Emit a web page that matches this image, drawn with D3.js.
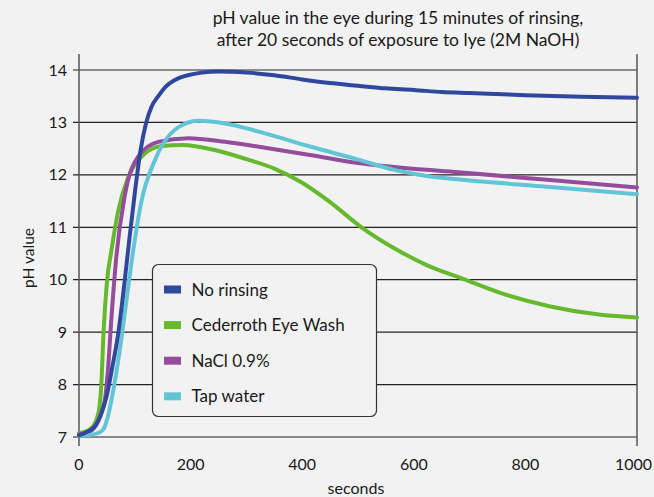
<!DOCTYPE html>
<html>
<head>
<meta charset="utf-8">
<script src="https://cdn.jsdelivr.net/npm/d3@7"></script>
<style>
	body { margin: 0; background: #f2f2f2; }
	svg { display: block; font-family: Lato, "Open Sans", sans-serif; }
</style>
</head>
<body>
<svg id="chart" width="654" height="497"></svg>
<script>
// pH readings, [seconds, pH]
var noRinsing = [[0,7.03],[15,7.1],[30,7.22],[40,7.45],[50,7.8],[60,8.35],[70,8.95],[80,9.8],[90,10.75],[100,11.65],
	[110,12.45],[120,12.98],[130,13.3],[142,13.5],[155,13.68],[172,13.81],[195,13.9],[220,13.95],[250,13.97],
	[300,13.95],[350,13.9],[400,13.82],[450,13.75],[500,13.7],[550,13.65],[600,13.62],[650,13.58],[700,13.56],
	[800,13.52],[900,13.49],[1000,13.47]];
var cederroth = [[0,7.07],[20,7.15],[32,7.35],[37,7.6],[40,8.0],[44,9.0],[50,9.95],[58,10.55],[70,11.3],[88,11.95],
	[112,12.35],[148,12.55],[185,12.57],[245,12.47],[300,12.3],[350,12.12],[400,11.85],[450,11.48],[505,11.01],
	[565,10.6],[625,10.27],[685,10.03],[755,9.75],[845,9.49],[935,9.33],[1000,9.28]];
var nacl = [[0,7.05],[15,7.08],[29,7.2],[40,7.45],[47,7.75],[52,8.3],[58,9.25],[67,10.45],[82,11.6],[106,12.35],
	[142,12.63],[196,12.7],[262,12.63],[325,12.53],[414,12.38],[504,12.22],[593,12.12],[680,12.05],[844,11.9],[1000,11.76]];
var tapWater = [[0,7.02],[20,7.04],[35,7.08],[44,7.15],[52,7.4],[59,7.75],[73,8.65],[85,9.6],[95,10.4],[112,11.5],
	[136,12.28],[172,12.86],[214,13.03],[262,12.98],[324,12.82],[414,12.54],[504,12.28],[563,12.1],[623,11.98],
	[683,11.91],[844,11.77],[1000,11.63]];

var seriesNames = ["No rinsing", "Cederroth Eye Wash", "NaCl 0.9%", "Tap water"];
var seriesColors = ["#2f479c", "#66b82d", "#964c9c", "#62c5d6"];
var seriesData = [noRinsing, cederroth, nacl, tapWater];
var drawOrder = [1, 2, 3, 0];   // blue lies on top

var xTicks = [0, 200, 400, 600, 800, 1000];
var yTicks = [7, 8, 9, 10, 11, 12, 13, 14];
var titleLines = ["pH value in the eye during 15 minutes of rinsing,",
	"after 20 seconds of exposure to lye (2M NaOH)"];

var svg = d3.select("#chart");

var x = d3.scaleLinear().domain([0, 1000]).range([79, 637]);
var y = d3.scaleLinear().domain([7, 14]).range([437, 70]);

// title
svg.append("g").selectAll("text")
	.data(titleLines)
	.enter().append("text")
	.attr("x", 398)
	.attr("y", function(d, i) { return 24 + i * 22; })
	.attr("text-anchor", "middle")
	.style("font-size", "17.5px")
	.style("fill", "#1a1a1a")
	.text(function(d) { return d; });

// horizontal grid lines with a little tick on the left
svg.append("g").selectAll("line")
	.data(yTicks)
	.enter().append("line")
	.attr("x1", x(0) - 6)
	.attr("x2", x(1000))
	.attr("y1", function(d) { return y(d); })
	.attr("y2", function(d) { return y(d); })
	.style("stroke", "#222")
	.style("stroke-width", 1.2);

// left and right vertical axis lines
svg.append("g").selectAll("line")
	.data([0, 1000])
	.enter().append("line")
	.attr("x1", function(d) { return x(d); })
	.attr("x2", function(d) { return x(d); })
	.attr("y1", 54)
	.attr("y2", 446)
	.style("stroke", "#555")
	.style("stroke-width", 1.5);

// y tick labels
svg.append("g").selectAll("text")
	.data(yTicks)
	.enter().append("text")
	.attr("x", 67)
	.attr("y", function(d) { return y(d) + 5.5; })
	.attr("text-anchor", "end")
	.style("font-size", "16px")
	.style("fill", "#1a1a1a")
	.text(function(d) { return d; });

// x tick labels, last one pulled in so it stays on the page
svg.append("g").selectAll("text")
	.data(xTicks)
	.enter().append("text")
	.attr("x", function(d) { return d == 1000 ? 652 : x(d); })
	.attr("y", 470)
	.attr("text-anchor", function(d) { return d == 1000 ? "end" : "middle"; })
	.style("font-size", "16px")
	.style("fill", "#1a1a1a")
	.text(function(d) { return d; });

svg.append("text")
	.attr("x", 356)
	.attr("y", 494)
	.attr("text-anchor", "middle")
	.style("font-size", "16px")
	.style("fill", "#1a1a1a")
	.text("seconds");

svg.append("text")
	.attr("transform", "translate(34,258) rotate(-90)")
	.attr("text-anchor", "middle")
	.style("font-size", "15.5px")
	.style("fill", "#1a1a1a")
	.text("pH value");

// the curves
var line = d3.line()
	.x(function(d) { return x(d[0]); })
	.y(function(d) { return y(d[1]); })
	.curve(d3.curveMonotoneX);

svg.append("g").selectAll("path")
	.data(drawOrder)
	.enter().append("path")
	.attr("d", function(i) { return line(seriesData[i]); })
	.style("fill", "none")
	.style("stroke", function(i) { return seriesColors[i]; })
	.style("stroke-width", 4)
	.style("stroke-linecap", "round");

// legend box covers lines and grid
var legend = svg.append("g").attr("transform", "translate(152.5,264.5)");

legend.append("rect")
	.attr("width", 224)
	.attr("height", 152)
	.attr("rx", 6)
	.style("fill", "#f2f2f2")
	.style("stroke", "#333")
	.style("stroke-width", 1.2);

var item = legend.selectAll(".item")
	.data(seriesNames)
	.enter().append("g")
	.attr("transform", function(d, i) { return "translate(0," + (25 + i * 35.6) + ")"; });

item.append("rect")
	.attr("x", 11.5)
	.attr("y", -4)
	.attr("width", 17)
	.attr("height", 8)
	.style("fill", function(d, i) { return seriesColors[i]; });

item.append("text")
	.attr("x", 39)
	.attr("y", 6)
	.style("font-size", "17px")
	.style("fill", "#1a1a1a")
	.text(function(d) { return d; });
</script>
</body>
</html>
